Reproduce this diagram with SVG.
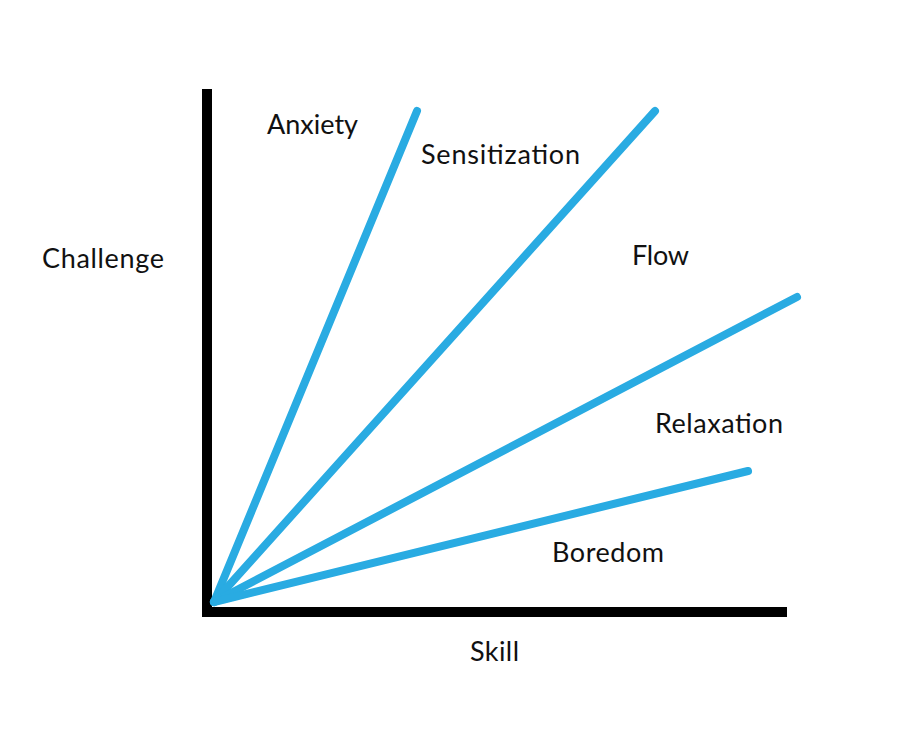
<svg xmlns="http://www.w3.org/2000/svg" width="897" height="736" viewBox="0 0 897 736">
<style>
.ax{fill:#000}
.ln{stroke:#29abe2;stroke-width:8;stroke-linecap:round;fill:none}
text{font-family:"Lato","Open Sans",sans-serif;font-size:27px;fill:#111}
</style>
<rect width="897" height="736" fill="#fff"/>
<g id="axes">
<rect class="ax" x="202" y="89" width="10" height="528"/>
<rect class="ax" x="202" y="607" width="585" height="10"/>
</g>
<g id="connectors">
<line class="ln" x1="214" y1="602" x2="417" y2="111"/>
<line class="ln" x1="214" y1="602" x2="655" y2="111"/>
<line class="ln" x1="214" y1="602" x2="797" y2="297"/>
<line class="ln" x1="214" y1="602" x2="748" y2="471"/>
</g>
<g id="labels">
<text id="anxiety" x="267" y="134" textLength="91" lengthAdjust="spacing">Anxiety</text>
<text id="sensitization" x="421" y="164" textLength="159" lengthAdjust="spacing">Sensitization</text>
<text id="challenge" x="42" y="268" textLength="122" lengthAdjust="spacing">Challenge</text>
<text id="flow" x="632" y="265" textLength="57" lengthAdjust="spacing">Flow</text>
<text id="relaxation" x="655" y="433" textLength="128" lengthAdjust="spacing">Relaxation</text>
<text id="boredom" x="552" y="562" textLength="112" lengthAdjust="spacing">Boredom</text>
<text id="skill" x="470" y="661" textLength="49" lengthAdjust="spacing">Skill</text>
</g>
</svg>
